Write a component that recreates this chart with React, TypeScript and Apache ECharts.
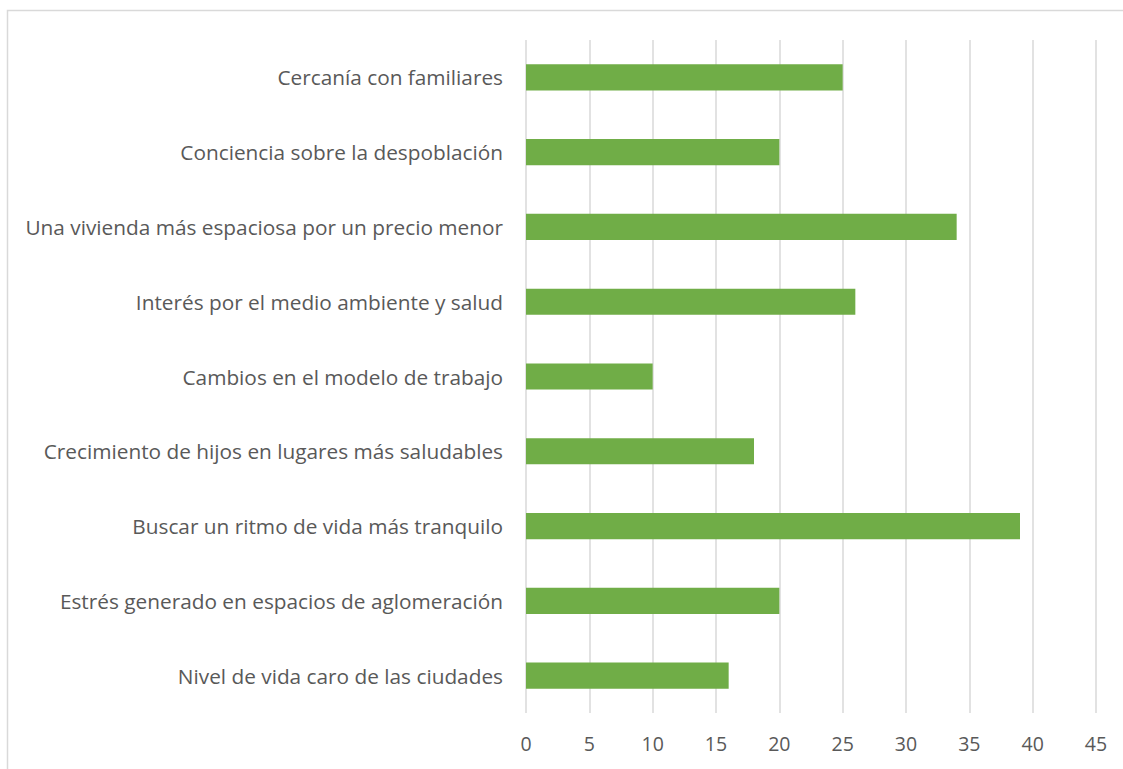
import React, { useEffect, useRef } from "react";
import * as echarts from "echarts";

const categories = [
  "Cercanía con familiares",
  "Conciencia sobre la despoblación",
  "Una vivienda más espaciosa por un precio menor",
  "Interés por el medio ambiente y salud",
  "Cambios en el modelo de trabajo",
  "Crecimiento de hijos en lugares más saludables",
  "Buscar un ritmo de vida más tranquilo",
  "Estrés generado en espacios de aglomeración",
  "Nivel de vida caro de las ciudades",
];
const values = [25, 20, 34, 26, 10, 18, 39, 20, 16];
const xMin = 0;
const xMax = 45;
const xStep = 5;

export default function App() {
  const ref = useRef<HTMLDivElement>(null);
  useEffect(() => {
    if (!ref.current) return;
    const chart = echarts.init(ref.current, null, { renderer: "svg" });
    chart.setOption({
      animation: false,
      backgroundColor: "#ffffff",
      textStyle: { fontFamily: "Open Sans" },
      graphic: [
        {
          type: "rect",
          shape: { x: 7.5, y: 10.5, width: 1130, height: 800 },
          style: { fill: "none", stroke: "#d9d9d9", lineWidth: 1.5 },
          silent: true,
        },
      ],
      grid: { left: 526, right: 27, top: 40, bottom: 56, containLabel: false },
      xAxis: {
        type: "value",
        min: xMin,
        max: xMax,
        interval: xStep,
        axisLine: { show: false },
        axisTick: { show: false },
        splitLine: { show: true, lineStyle: { color: "#d9d9d9", width: 1.5 } },
        axisLabel: { color: "#595959", fontSize: 19.5, margin: 20, fontFamily: "Open Sans" },
      },
      yAxis: {
        type: "category",
        data: categories,
        inverse: true,
        axisLine: { show: false },
        axisTick: { show: false },
        axisLabel: { color: "#595959", fontSize: 20.8, margin: 23, fontFamily: "Open Sans" },
      },
      series: [
        {
          type: "bar",
          data: values,
          barWidth: "35%",
          itemStyle: { color: "#70ad47" },
        },
      ],
    });
    return () => chart.dispose();
  }, []);
  return (
    <div
      ref={ref}
      style={{ position: "fixed", left: 0, top: 0, width: 1123, height: 769 }}
    />
  );
}
